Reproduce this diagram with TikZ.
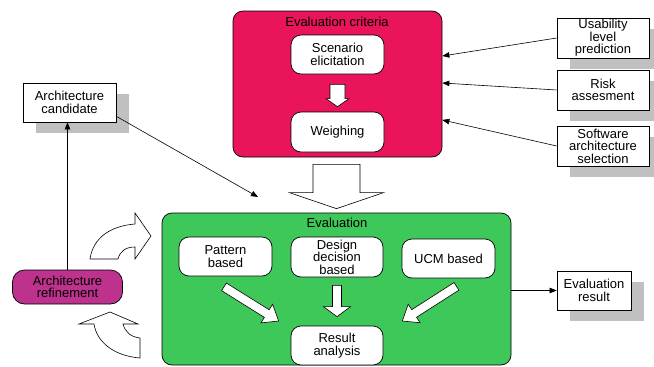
\documentclass[tikz,border=0pt]{standalone}
\usepackage{fontspec}
\setmainfont{Liberation Sans}
\usepackage{tikz}
\usetikzlibrary{positioning}
\usetikzlibrary{calc}
\usetikzlibrary{shadows}
\usetikzlibrary{arrows.meta}

\definecolor{critred}{RGB}{234,20,90}
\definecolor{evalgreen}{RGB}{62,200,90}
\definecolor{refmagenta}{RGB}{188,50,140}
\definecolor{shadowgray}{RGB}{192,192,192}

% tail, tip, shaft half width, head half width, head length
\newcommand{\blkarrow}[5]{%
	\coordinate (ba) at ($(#2)!#5pt!(#1)$);
	\draw[blockarr] ($(#1)!#3pt!90:(#2)$) -- ($(ba)!#3pt!90:(#2)$) -- ($(ba)!#4pt!90:(#2)$) -- (#2)
		-- ($(ba)!#4pt!-90:(#2)$) -- ($(ba)!#3pt!-90:(#2)$) -- ($(#1)!#3pt!-90:(#2)$) -- cycle;}

\begin{document}
\begin{tikzpicture}[x=1pt,y=-1pt,line width=0.7pt,
		font=\fontsize{13}{12.5}\selectfont,
		roundbox/.style={draw, fill=white, rounded corners=10pt, align=center, inner sep=0pt},
		plainbox/.style={draw, fill=white, align=center, inner sep=0pt,
			drop shadow={shadow xshift=13pt, shadow yshift=-11pt, fill=shadowgray, opacity=1}},
		blockarr/.style={draw, fill=white, line width=0.6pt, line join=miter},
		thinarr/.style={-{Triangle[length=7pt,width=5.5pt]}, line width=0.6pt}]
		\useasboundingbox (0,0) rectangle (654,367);
		%
		\node[draw, fill=critred, rounded corners=10pt, minimum width=209pt, minimum height=146pt] (crit) at (337.5,84) {};
		\node (crittitle) at (337,22) {Evaluation criteria};
		\node[roundbox, minimum width=93pt, minimum height=39pt] (scen) at (337.5,54.5) {Scenario\\elicitation};
		\node[roundbox, minimum width=93pt, minimum height=40pt] (weigh) at (337.5,132) {Weighing};
		%
		\node[draw, fill=evalgreen, rounded corners=10pt, minimum width=349pt, minimum height=152pt] (eval) at (336.5,289) {};
		\node (evaltitle) at (337,223) {Evaluation};
		\node[roundbox, minimum width=93pt, minimum height=39pt] (pat) at (225.5,256.5) {Pattern\\based};
		\node[roundbox, minimum width=92pt, minimum height=40pt] (des) at (337,257) {Design\\decision\\based};
		\node[roundbox, minimum width=93pt, minimum height=39pt] (ucm) at (448.5,258.5) {UCM based};
		\node[roundbox, minimum width=92pt, minimum height=39pt] (res) at (337,345.5) {Result\\analysis};
		%
		\node[plainbox, minimum width=93pt, minimum height=39pt] (cand) at (69.5,102.5) {Architecture\\candidate};
		\node[draw, fill=refmagenta, rounded corners=12pt, align=center, inner sep=0pt,
			minimum width=110pt, minimum height=34pt] (refine) at (67.5,287) {Architecture\\refinement};
		%
		\node[plainbox, minimum width=92pt, minimum height=40pt] (usab) at (603,38) {Usability\\level\\prediction};
		\node[plainbox, minimum width=92pt, minimum height=40pt] (risk) at (603,90) {Risk\\assesment};
		\node[plainbox, minimum width=92pt, minimum height=40pt] (sw) at (603,146) {Software\\architecture\\selection};
		\node[plainbox, minimum width=74pt, minimum height=39pt] (result) at (594,290.5) {Evaluation\\result};
		%
		\blkarrow{$(scen.south)+(0,10)$}{$(weigh.north)+(0,-5)$}{7.5}{11.5}{8}
		\blkarrow{$(crit.south)+(-1,7)$}{$(eval.north)+(0,-4)$}{23.5}{47}{16}
		\blkarrow{$(des.south)+(0,8)$}{$(res.north)+(0,-9)$}{4.5}{13.5}{10}
		\blkarrow{$(pat.south)+(-1.5,10.5)$}{$(res.west)+(-12,-24.5)$}{4.5}{11}{14}
		\blkarrow{$(ucm.south)+(8,8)$}{$(res.east)+(19,-24.5)$}{4.5}{11}{14}
		%
		\coordinate (bigtip) at (258,197);
		\draw[thinarr] ($(cand.south east)+(0,-6)$) -- (bigtip);
		\draw[thinarr] (refine.north) -- (refine.north |- cand.south);
		\draw[thinarr] (usab.west) -- (crit.east |- 0,56);
		\draw[thinarr] (risk.west) -- (crit.east |- 0,83);
		\draw[thinarr] (sw.west) -- (crit.east |- 0,120);
		\draw[thinarr] (eval.east |- result.west) -- (result.west);
		%
		\draw[blockarr] (90,259) -- (118,259) .. controls (120,251) and (126,247) .. (135,247)
			-- (135,259) -- (151,236) -- (135,213) -- (135,224)
			.. controls (110,226) and (93,238) .. (90,259) -- cycle;
		\draw[blockarr] (110,312) -- (138,324) -- (123,324) .. controls (125,332) and (131,337) .. (140,338)
			-- (140,358) .. controls (115,356) and (97,343) .. (94,324) -- (79,324) -- cycle;
	\end{tikzpicture}
\end{document}
